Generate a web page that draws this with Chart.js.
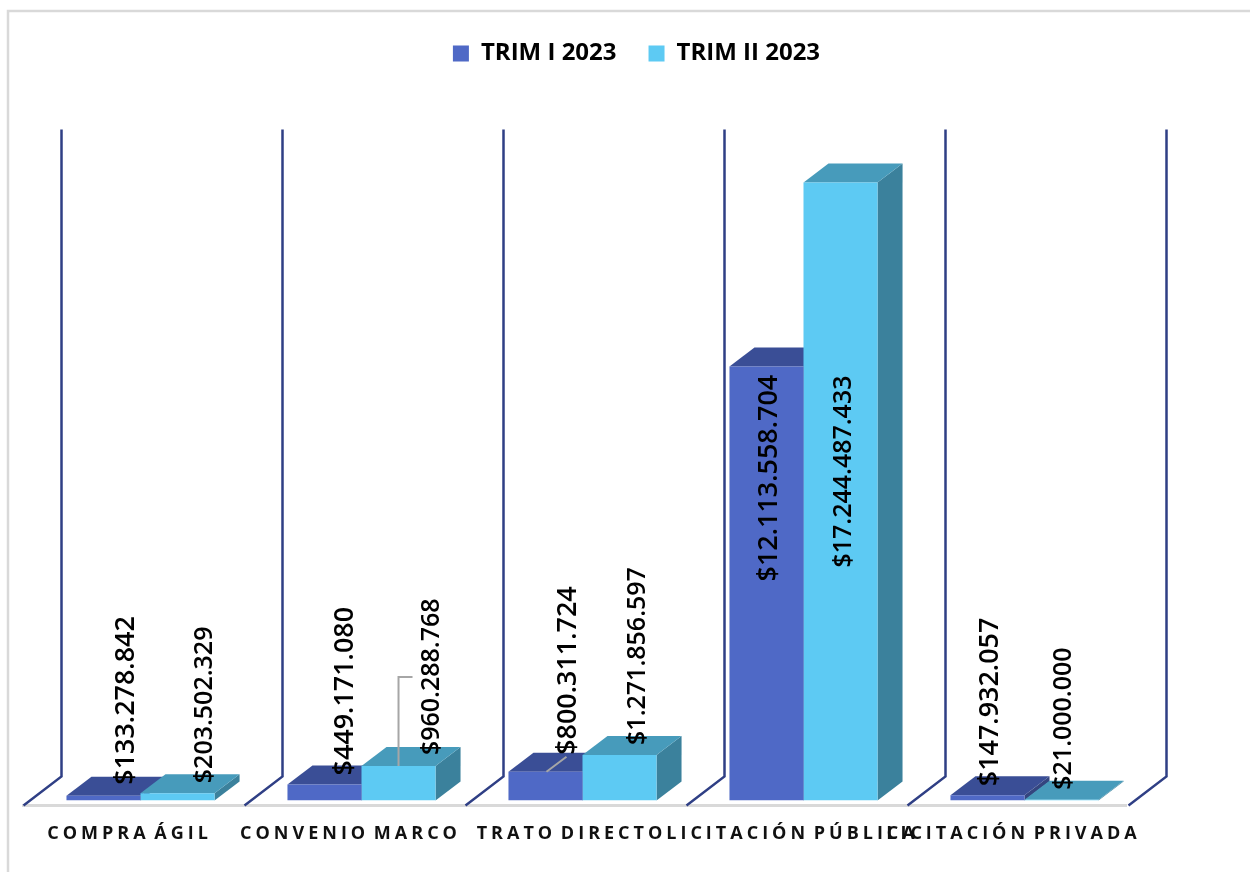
<!DOCTYPE html>
<html>
<head>
<meta charset="utf-8">
<script src="https://cdn.jsdelivr.net/npm/chart.js@4/dist/chart.umd.min.js"></script>
<style>
  html, body { margin: 0; padding: 0; background: #fff; }
  canvas { display: block; }
</style>
</head>
<body>
<canvas id="chart" width="1250" height="872"></canvas>
<script>
const categories = ['COMPRA ÁGIL', 'CONVENIO MARCO', 'TRATO DIRECTO', 'LICITACIÓN PÚBLICA', 'LICITACIÓN PRIVADA'];
const trim1 = [133278842, 449171080, 800311724, 12113558704, 147932057];
const trim2 = [203502329, 960288768, 1271856597, 17244487433, 21000000];
const seriesNames = ['TRIM I 2023', 'TRIM II 2023'];

// where each value label sits, relative to the middle/top of its bar
const labelShift = [
  [[23, -11], [21, -9], [23, -17], [3, 215], [3, -9]],
  [[27, -10], [33, -11], [18, -10], [3, 385], [2, -10]]
];
const labelSize = [26.9, 25];

const depthX = 25;
const depthY = 19;
const faces = [
  { top: '#3A4E96', side: '#34457F' },
  { top: '#479BBB', side: '#3B819C' }
];

function poly(ctx, pts, color) {
  ctx.fillStyle = color;
  ctx.beginPath();
  pts.forEach((p, i) => i ? ctx.lineTo(p[0], p[1]) : ctx.moveTo(p[0], p[1]));
  ctx.closePath();
  ctx.fill();
}

function money(v) {
  return '$' + String(v).replace(/\B(?=(\d{3})+$)/g, '.');
}

const look3d = {
  id: 'look3d',
  beforeInit(chart) {
    // leave the empty band under the legend
    const fit = chart.legend.fit;
    chart.legend.fit = function () {
      fit.call(this);
      this.height += 80;
    };
  },
  afterLayout(chart) {
    // legend is centred on the picture, not on the plot
    chart.legend.left += 54;
    chart.legend.right += 54;
    const x = chart.scales.x;
    if (!x.spaced) {
      const draw = x.drawLabels;
      x.drawLabels = function (area) {
        chart.ctx.save();
        chart.ctx.letterSpacing = '4px';
        chart.ctx.wordSpacing = '-4px';
        draw.call(this, area);
        chart.ctx.restore();
      };
      x.spaced = true;
    }
  },
  beforeDraw(chart) {
    const ctx = chart.ctx;
    ctx.save();
    ctx.strokeStyle = '#D9D9D9';
    ctx.lineWidth = 2.5;
    ctx.beginPath();
    ctx.moveTo(8, 872);
    ctx.lineTo(8, 11);
    ctx.lineTo(1250, 11);
    ctx.stroke();
    ctx.restore();
  },
  beforeDatasetsDraw(chart) {
    const ctx = chart.ctx;
    const { x: xs, y: ys } = chart.scales;
    const half = (xs.getPixelForValue(1) - xs.getPixelForValue(0)) / 2;
    const zero = ys.getPixelForValue(0);
    ctx.save();
    // floor edge
    ctx.strokeStyle = '#D9D9D9';
    ctx.lineWidth = 3;
    ctx.beginPath();
    ctx.moveTo(xs.getPixelForValue(0) - half - 8, zero + 5);
    ctx.lineTo(xs.getPixelForValue(categories.length - 1) + half - 8, zero + 5);
    ctx.stroke();
    // dividers between categories
    ctx.strokeStyle = '#2F3F85';
    ctx.lineWidth = 2.5;
    for (let i = 0; i <= categories.length; i++) {
      const bx = xs.getPixelForValue(0) - half + i * half * 2;
      ctx.beginPath();
      ctx.moveTo(bx + 31.5, ys.top - 26);
      ctx.lineTo(bx + 31.5, zero - 24);
      ctx.lineTo(bx - 6.5, zero + 5);
      ctx.stroke();
    }
    ctx.restore();
    // depth faces go under the fronts drawn by the library
    [0, 1].forEach(d => {
      chart.getDatasetMeta(d).data.forEach(bar => {
        const l = bar.x - bar.width / 2;
        const r = bar.x + bar.width / 2;
        const t = bar.y;
        const b = bar.base;
        poly(ctx, [[r, t], [r + depthX, t - depthY], [r + depthX, b - depthY], [r, b]], faces[d].side);
        poly(ctx, [[l, t], [l + depthX, t - depthY], [r + depthX, t - depthY], [r, t]], faces[d].top);
      });
    });
  },
  afterDatasetsDraw(chart) {
    const ctx = chart.ctx;
    const bar1 = chart.getDatasetMeta(1).data[1];
    const bar0 = chart.getDatasetMeta(0).data[2];
    ctx.save();
    // leader lines
    ctx.strokeStyle = '#A6A6A6';
    ctx.lineWidth = 2;
    ctx.beginPath();
    ctx.moveTo(bar1.x, bar1.y);
    ctx.lineTo(bar1.x, bar1.y - 89);
    ctx.lineTo(bar1.x + 14, bar1.y - 89);
    ctx.moveTo(bar0.x + 1, bar0.y);
    ctx.lineTo(bar0.x + 21, bar0.y - 15);
    ctx.stroke();
    // value labels
    ctx.fillStyle = '#000';
    ctx.textAlign = 'left';
    ctx.textBaseline = 'middle';
    [trim1, trim2].forEach((vals, d) => {
      ctx.font = '600 ' + labelSize[d] + 'px "Open Sans"';
      chart.getDatasetMeta(d).data.forEach((bar, i) => {
        const s = labelShift[d][i];
        ctx.save();
        ctx.translate(bar.x + s[0], bar.y + s[1]);
        ctx.rotate(-Math.PI / 2);
        ctx.fillText(money(vals[i]), 0, 0);
        ctx.restore();
      });
    });
    ctx.restore();
  }
};

new Chart(document.getElementById('chart').getContext('2d'), {
  type: 'bar',
  data: {
    labels: categories,
    datasets: [
      { label: seriesNames[0], data: trim1, backgroundColor: '#4F69C6' },
      { label: seriesNames[1], data: trim2, backgroundColor: '#5DCAF3' }
    ]
  },
  options: {
    responsive: false,
    animation: false,
    categoryPercentage: 0.67,
    barPercentage: 1,
    layout: {
      padding: { left: 30, right: 115, top: 9.5, bottom: 11.9 }
    },
    plugins: {
      tooltip: { enabled: false },
      legend: {
        position: 'top',
        labels: {
          boxWidth: 16,
          boxHeight: 16,
          padding: 32,
          color: '#000',
          font: { family: '"Open Sans"', size: 24, weight: 'bold' }
        }
      }
    },
    scales: {
      x: {
        grid: { display: false },
        border: { display: false },
        ticks: {
          autoSkip: false,
          maxRotation: 0,
          labelOffset: -11,
          padding: 15,
          color: '#111',
          font: { family: '"Open Sans"', size: 18, weight: 'bold' }
        }
      },
      y: {
        display: false,
        min: 0,
        max: 18000000000
      }
    }
  },
  plugins: [look3d]
});
</script>
</body>
</html>
